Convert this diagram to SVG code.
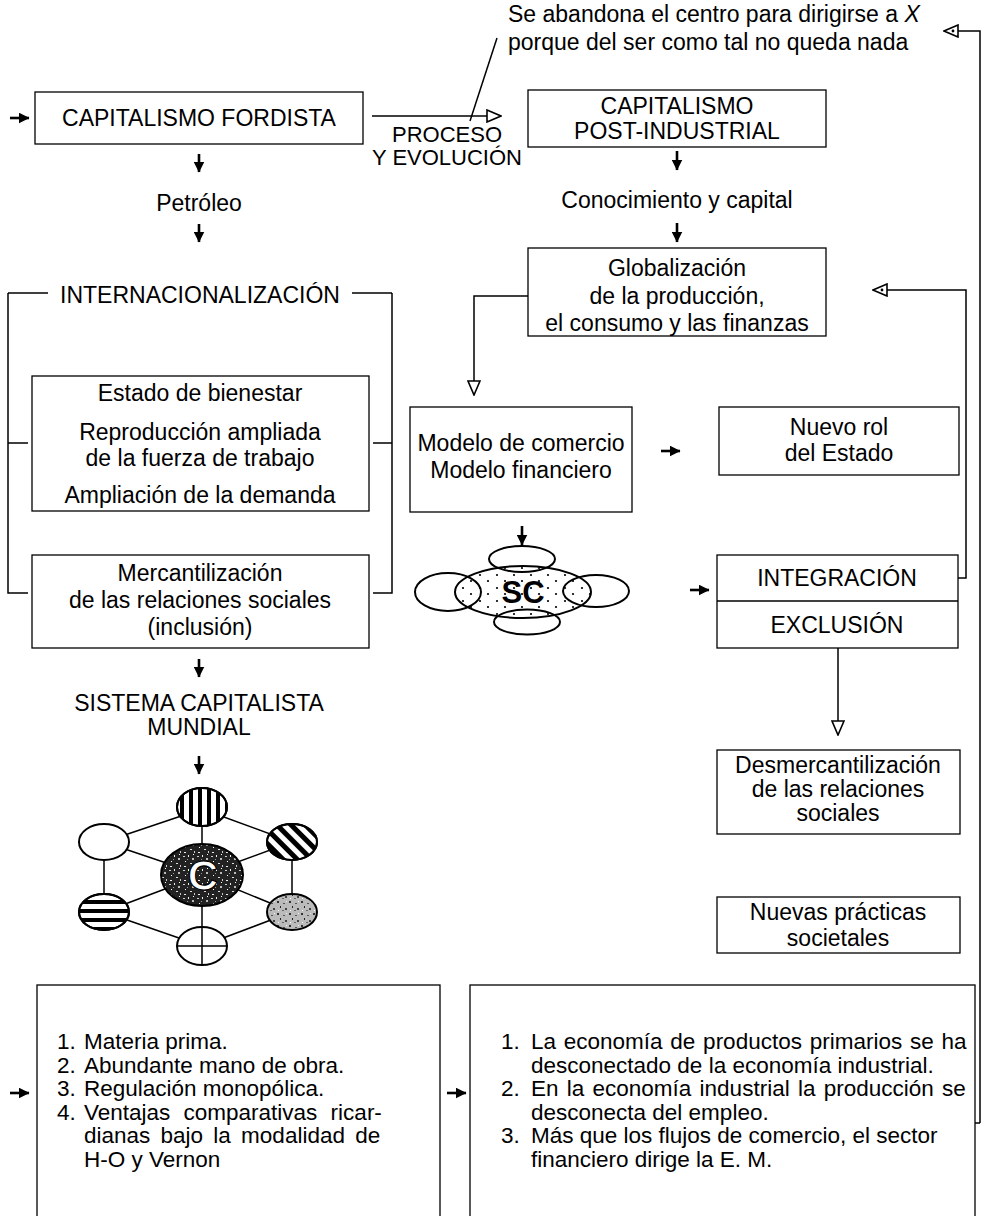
<svg xmlns="http://www.w3.org/2000/svg" width="985" height="1216" viewBox="0 0 985 1216">
<style>
text{font-family:"Liberation Sans",Arial,sans-serif;font-size:23px;fill:#000}
.c{text-anchor:middle}
.li{font-size:22.5px}
.box{fill:#fff;stroke:#000;stroke-width:1.3}
.ln{fill:none;stroke:#000;stroke-width:1.5}
.sa{fill:none;stroke:#000;stroke-width:2.6;marker-end:url(#fa)}
.el{stroke:#000;stroke-width:2}
</style>
<defs>
<marker id="fa" viewBox="0 0 10 10" refX="9.5" refY="5" markerWidth="11" markerHeight="11" markerUnits="userSpaceOnUse" orient="auto"><path d="M0,0 L10,5 L0,10 z" fill="#000"/></marker>
<marker id="oa" viewBox="0 0 16 14" refX="15" refY="7" markerWidth="16" markerHeight="14" markerUnits="userSpaceOnUse" orient="auto"><path d="M1,1 L15,7 L1,13 z" fill="#fff" stroke="#000" stroke-width="1.6"/><circle cx="6" cy="7" r="1.4" fill="#000"/></marker>
<marker id="ob" viewBox="0 0 16 14" refX="15" refY="7" markerWidth="16" markerHeight="14" markerUnits="userSpaceOnUse" orient="auto"><path d="M1,1 L15,7 L1,13 z" fill="#fff" stroke="#000" stroke-width="1.6"/></marker>
<pattern id="vs" width="9" height="9" patternUnits="userSpaceOnUse"><rect width="4" height="9" fill="#000"/></pattern>
<pattern id="hs" width="9" height="9" patternUnits="userSpaceOnUse"><rect width="9" height="4" fill="#000"/></pattern>
<pattern id="ds" width="10" height="10" patternUnits="userSpaceOnUse" patternTransform="rotate(-45)"><rect width="5" height="10" fill="#000"/></pattern>
<pattern id="dk" width="14" height="14" patternUnits="userSpaceOnUse"><rect width="14" height="14" fill="#222"/><rect x="1" y="2" width="2" height="1" fill="#ccc"/><rect x="6" y="1" width="1" height="2" fill="#eee"/><rect x="10" y="4" width="2" height="2" fill="#bbb"/><rect x="3" y="7" width="1" height="1" fill="#fff"/><rect x="8" y="9" width="2" height="1" fill="#ddd"/><rect x="12" y="11" width="1" height="2" fill="#ccc"/><rect x="2" y="12" width="2" height="1" fill="#eee"/><rect x="5" y="5" width="1" height="1" fill="#999"/><rect x="11" y="0" width="1" height="1" fill="#fff"/></pattern>
<pattern id="lt" width="12" height="12" patternUnits="userSpaceOnUse"><rect width="12" height="12" fill="#bbb"/><rect x="1" y="1" width="2" height="2" fill="#333"/><rect x="7" y="3" width="2" height="1" fill="#555"/><rect x="4" y="6" width="1" height="2" fill="#222"/><rect x="9" y="8" width="2" height="2" fill="#444"/><rect x="2" y="10" width="1" height="1" fill="#fff"/><rect x="6" y="10" width="2" height="1" fill="#666"/><rect x="10" y="1" width="1" height="1" fill="#eee"/></pattern>
<pattern id="dots" width="17" height="13" patternUnits="userSpaceOnUse"><circle cx="4" cy="3" r="1.1" fill="#000"/><circle cx="12" cy="9" r="1.1" fill="#000"/></pattern>
</defs>

<g id="connectors">
<path class="sa" d="M10,118 H29"/>
<path class="sa" d="M199,154 V172"/>
<path class="sa" d="M199,224 V242"/>
<path class="ln" d="M372,116 H501" marker-end="url(#ob)"/>
<path class="ln" d="M497,38 L470,121"/>
<path class="ln" d="M980,1123 V31 H944" marker-end="url(#oa)"/>
<path class="sa" d="M677,151 V170"/>
<path class="sa" d="M677,223 V242"/>
<path class="ln" d="M528,296 H474 V395" marker-end="url(#ob)"/>
<path class="ln" d="M946,578 H966 V290 H873" marker-end="url(#oa)"/>
<path class="sa" d="M661,451 H680"/>
<path class="sa" d="M522,526 V545"/>
<path class="sa" d="M690,590 H709"/>
<path class="ln" d="M838,648 V735" marker-end="url(#ob)"/>
<path class="ln" d="M960,1123 H980"/>
<path class="sa" d="M199,659 V677"/>
<path class="sa" d="M199,756 V774"/>
<path class="sa" d="M10,1093 H29"/>
<path class="sa" d="M447,1093 H466"/>
<path class="ln" d="M8,293 H48 M352,293 H392 M8,293 V593 H28 M8,443 H28 M392,293 V593 H373 M392,443 H373"/>
</g>

<g id="note">
<text x="508" y="22">Se abandona el centro para dirigirse a <tspan font-style="italic">X</tspan></text>
<text x="508" y="50">porque del ser como tal no queda nada</text>
</g>

<g id="fordista"><rect class="box" x="35" y="92" width="328" height="52"/><text class="c" x="199" y="126">CAPITALISMO FORDISTA</text></g>
<g id="proceso"><text class="c" x="447" y="142" style="font-size:22px">PROCESO</text><text class="c" x="447" y="165" style="font-size:22px">Y EVOLUCIÓN</text></g>
<g id="postindustrial"><rect class="box" x="528" y="90" width="298" height="57"/><text class="c" x="677" y="114">CAPITALISMO</text><text class="c" x="677" y="139">POST-INDUSTRIAL</text></g>
<g id="petroleo"><text class="c" x="199" y="211">Petróleo</text></g>
<g id="conocimiento"><text class="c" x="677" y="208">Conocimiento y capital</text></g>
<g id="internacionalizacion"><text class="c" x="200" y="303">INTERNACIONALIZACIÓN</text></g>
<g id="globalizacion"><rect class="box" x="528" y="248" width="298" height="88"/><text class="c" x="677" y="276">Globalización</text><text class="c" x="677" y="304">de la producción,</text><text class="c" x="677" y="331">el consumo y las finanzas</text></g>
<g id="bienestar"><rect class="box" x="32" y="376" width="337" height="135"/><text class="c" x="200" y="401">Estado de bienestar</text><text class="c" x="200" y="440">Reproducción ampliada</text><text class="c" x="200" y="466">de la fuerza de trabajo</text><text class="c" x="200" y="503">Ampliación de la demanda</text></g>
<g id="modelo"><rect class="box" x="410" y="407" width="222" height="105"/><text class="c" x="521" y="451">Modelo de comercio</text><text class="c" x="521" y="478">Modelo financiero</text></g>
<g id="nuevorol"><rect class="box" x="719" y="407" width="240" height="68"/><text class="c" x="839" y="435">Nuevo rol</text><text class="c" x="839" y="461">del Estado</text></g>
<g id="mercantilizacion"><rect class="box" x="32" y="555" width="337" height="93"/><text class="c" x="200" y="581">Mercantilización</text><text class="c" x="200" y="608">de las relaciones sociales</text><text class="c" x="200" y="635">(inclusión)</text></g>
<g id="sc">
<ellipse cx="523" cy="592" rx="68" ry="26" fill="url(#dots)" class="el"/>
<ellipse cx="522" cy="559" rx="33" ry="13" fill="none" class="el"/>
<ellipse cx="527" cy="622" rx="33" ry="12.5" fill="none" class="el"/>
<ellipse cx="448" cy="592" rx="33" ry="19" fill="none" class="el"/>
<ellipse cx="596" cy="591" rx="33" ry="16" fill="none" class="el"/>
<text class="c" x="523" y="603" style="font-size:31px;font-weight:bold">SC</text>
</g>
<g id="integracion"><rect class="box" x="717" y="555" width="241" height="93"/><line x1="717" y1="601" x2="958" y2="601" stroke="#000" stroke-width="1.3"/><text class="c" x="837" y="586">INTEGRACIÓN</text><text class="c" x="837" y="633">EXCLUSIÓN</text></g>
<g id="sistema"><text class="c" x="199" y="711">SISTEMA CAPITALISTA</text><text class="c" x="199" y="735">MUNDIAL</text></g>
<g id="desmercantilizacion"><rect class="box" x="717" y="750" width="243" height="84"/><text class="c" x="838" y="773">Desmercantilización</text><text class="c" x="838" y="797">de las relaciones</text><text class="c" x="838" y="821">sociales</text></g>
<g id="red">
<path class="ln" d="M202,809 L104,842 M202,809 L292,842 M202,809 V946 M104,842 V912 M292,842 V912 M104,912 L202,946 M292,912 L202,946 M104,842 L202,875 M292,842 L202,875 M104,912 L202,875 M292,912 L202,875"/>
<ellipse cx="202" cy="807" rx="25" ry="19" fill="#fff" class="el"/>
<ellipse cx="202" cy="807" rx="25" ry="19" fill="url(#vs)" class="el"/>
<ellipse cx="104" cy="842" rx="25" ry="18" fill="#fff" class="el"/>
<ellipse cx="292" cy="842" rx="25" ry="18" fill="#fff" class="el"/>
<ellipse cx="292" cy="842" rx="25" ry="18" fill="url(#ds)" class="el"/>
<ellipse cx="104" cy="912" rx="25" ry="18" fill="#fff" class="el"/>
<ellipse cx="104" cy="912" rx="25" ry="18" fill="url(#hs)" class="el"/>
<ellipse cx="292" cy="912" rx="25" ry="18" fill="url(#lt)" class="el"/>
<ellipse cx="202" cy="946" rx="25" ry="19" fill="#fff" class="el"/>
<path class="ln" d="M202,927 V965 M177,946 H227"/>
<ellipse cx="202" cy="875" rx="41" ry="31" fill="url(#dk)" class="el"/>
<text class="c" x="203" y="890" style="font-size:42px;font-weight:bold;fill:#fff;stroke:#000;stroke-width:1.2">C</text>
</g>
<g id="nuevas"><rect class="box" x="717" y="897" width="243" height="56"/><text class="c" x="838" y="920">Nuevas prácticas</text><text class="c" x="838" y="946">societales</text></g>
<g id="lista1"><rect class="box" x="37" y="985" width="403" height="250"/>
<text class="li" x="57" y="1049">1.</text><text class="li" x="84" y="1049">Materia prima.</text>
<text class="li" x="57" y="1072.6">2.</text><text class="li" x="84" y="1072.6">Abundante mano de obra.</text>
<text class="li" x="57" y="1096.2">3.</text><text class="li" x="84" y="1096.2">Regulación monopólica.</text>
<text class="li" x="57" y="1119.8">4.</text><text class="li" x="84" y="1119.8" word-spacing="7">Ventajas comparativas ricar-</text>
<text class="li" x="84" y="1143.4" word-spacing="4">dianas bajo la modalidad de</text>
<text class="li" x="84" y="1167">H-O y Vernon</text>
</g>
<g id="lista2"><rect class="box" x="470" y="985" width="505" height="250"/>
<text class="li" x="501" y="1049">1.</text><text class="li" x="531" y="1049" word-spacing="1.5">La economía de productos primarios se ha</text>
<text class="li" x="531" y="1072.6">desconectado de la economía industrial.</text>
<text class="li" x="501" y="1096.2">2.</text><text class="li" x="531" y="1096.2" word-spacing="2">En la economía industrial la producción se</text>
<text class="li" x="531" y="1119.8">desconecta del empleo.</text>
<text class="li" x="501" y="1143.4">3.</text><text class="li" x="531" y="1143.4">Más que los flujos de comercio, el sector</text>
<text class="li" x="531" y="1167">financiero dirige la E. M.</text>
</g>
</svg>
